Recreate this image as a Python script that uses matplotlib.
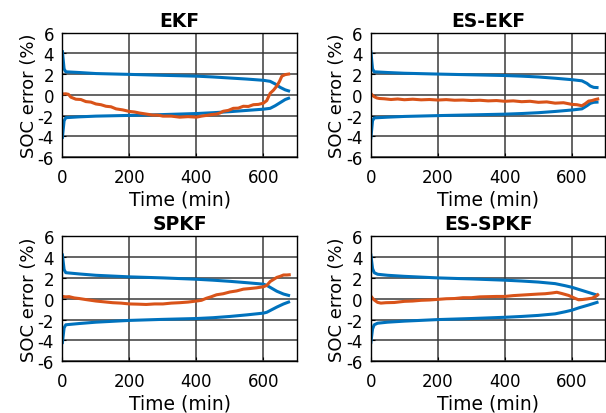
import matplotlib.pyplot as plt
import numpy as np

plt.rcParams['font.family'] = ['DejaVu Sans']
plt.rcParams['axes.unicode_minus'] = False

titles = ['EKF', 'ES-EKF', 'SPKF', 'ES-SPKF']

# 3-sigma error bounds (upper; lower given separately)
t_bnd = [
    [0, 5, 10, 50, 100, 200, 300, 400, 450, 500, 550, 600, 620, 635, 650, 665, 675],
    [0, 5, 10, 50, 100, 200, 300, 400, 450, 500, 550, 600, 630, 645, 655, 665, 675],
    [0, 5, 10, 50, 100, 200, 300, 400, 450, 500, 550, 600, 610, 625, 640, 660, 675],
    [0, 5, 10, 20, 50, 100, 200, 300, 400, 450, 500, 550, 580, 600, 620, 650, 675],
]
upper = [
    [4.15, 2.5, 2.22, 2.15, 2.05, 1.97, 1.88, 1.8, 1.72, 1.62, 1.52, 1.4, 1.3, 1.05, 0.72, 0.48, 0.38],
    [4.15, 2.5, 2.22, 2.15, 2.08, 2.0, 1.93, 1.86, 1.8, 1.72, 1.6, 1.46, 1.35, 1.1, 0.85, 0.72, 0.7],
    [4.2, 2.8, 2.5, 2.38, 2.25, 2.1, 2.0, 1.87, 1.78, 1.67, 1.54, 1.4, 1.28, 1.0, 0.72, 0.45, 0.32],
    [4.2, 2.9, 2.5, 2.35, 2.25, 2.15, 2.0, 1.9, 1.78, 1.7, 1.6, 1.45, 1.25, 1.1, 0.9, 0.6, 0.35],
]
lower = [
    [-4.1, -2.5, -2.2, -2.12, -2.05, -1.98, -1.9, -1.8, -1.72, -1.62, -1.5, -1.38, -1.3, -1.05, -0.75, -0.45, -0.33],
    [-4.15, -2.5, -2.22, -2.15, -2.08, -2.0, -1.93, -1.86, -1.8, -1.72, -1.6, -1.46, -1.35, -1.05, -0.82, -0.72, -0.7],
    [-4.2, -2.8, -2.5, -2.38, -2.25, -2.08, -1.98, -1.9, -1.82, -1.7, -1.55, -1.38, -1.3, -1.05, -0.8, -0.5, -0.32],
    [-4.2, -2.9, -2.5, -2.35, -2.25, -2.15, -2.0, -1.9, -1.78, -1.7, -1.6, -1.45, -1.25, -1.1, -0.88, -0.6, -0.35],
]

# SOC estimation error
t_err = [
    [0, 10, 18, 25, 40, 55, 70, 85, 100, 115, 130, 145, 160, 180, 200, 215, 230, 250, 270, 285, 300, 325, 350,
     375, 400, 415, 430, 445, 460, 470, 480, 495, 510, 525, 540, 555, 570, 585, 600, 610, 620, 630, 640, 648,
     655, 665, 675],
    [0, 5, 10, 18, 25, 40, 60, 80, 100, 125, 150, 175, 200, 225, 250, 275, 300, 325, 350, 375, 400, 425, 450,
     475, 500, 525, 550, 575, 600, 615, 630, 640, 650, 660, 670, 677],
    [0, 10, 20, 35, 50, 70, 100, 125, 150, 175, 200, 225, 250, 275, 300, 325, 350, 375, 400, 415, 430, 445,
     460, 480, 500, 520, 540, 560, 580, 600, 610, 620, 630, 640, 650, 660, 670, 677],
    [0, 5, 10, 20, 30, 45, 70, 100, 125, 150, 175, 200, 225, 250, 275, 300, 325, 350, 375, 400, 425, 450, 475,
     500, 520, 540, 555, 570, 590, 610, 620, 630, 645, 660, 670, 677],
]
err = [
    [0.08, 0.1, 0.05, -0.22, -0.42, -0.45, -0.65, -0.7, -0.88, -0.95, -1.1, -1.15, -1.35, -1.45, -1.6, -1.65,
     -1.75, -1.85, -1.95, -1.95, -2.05, -2.05, -2.15, -2.1, -2.15, -2.05, -1.98, -1.9, -1.85, -1.75, -1.58,
     -1.5, -1.3, -1.28, -1.1, -1.12, -0.95, -0.92, -0.8, -0.55, 0.15, 0.45, 0.85, 1.3, 1.8, 1.95, 2.0],
    [0.12, -0.05, -0.18, -0.3, -0.35, -0.38, -0.45, -0.4, -0.47, -0.42, -0.48, -0.45, -0.5, -0.46, -0.52,
     -0.5, -0.55, -0.52, -0.58, -0.55, -0.62, -0.58, -0.66, -0.62, -0.72, -0.68, -0.8, -0.76, -0.92, -0.95,
     -1.05, -0.85, -0.6, -0.55, -0.45, -0.4],
    [0.22, 0.18, 0.2, 0.08, 0.02, -0.08, -0.22, -0.3, -0.38, -0.42, -0.5, -0.52, -0.55, -0.5, -0.5, -0.42,
     -0.38, -0.32, -0.22, -0.15, 0.05, 0.2, 0.38, 0.48, 0.65, 0.75, 0.92, 0.98, 1.05, 1.15, 1.28, 1.65, 1.85,
     2.05, 2.15, 2.28, 2.28, 2.3],
    [0.25, 0.05, -0.12, -0.35, -0.42, -0.38, -0.36, -0.25, -0.22, -0.15, -0.12, -0.06, 0.0, 0.02, 0.1, 0.1,
     0.18, 0.2, 0.22, 0.22, 0.3, 0.35, 0.4, 0.45, 0.48, 0.55, 0.62, 0.5, 0.32, 0.03, -0.1, -0.08, -0.02, 0.05,
     0.2, 0.38],
]

blue = '#0072BD'
orange = '#D95319'

fig = plt.figure(figsize=(6.06, 4.14), dpi=100)
pos = [[0.103, 0.618, 0.387, 0.301], [0.612, 0.618, 0.387, 0.301],
       [0.103, 0.125, 0.387, 0.302], [0.612, 0.125, 0.387, 0.302]]

for i in range(4):
    ax = fig.add_axes(pos[i])
    ax.plot(t_bnd[i], upper[i], color=blue, lw=2.2)
    ax.plot(t_bnd[i], lower[i], color=blue, lw=2.2)
    ax.plot(t_err[i], err[i], color=orange, lw=2.2)
    ax.set_xlim(0, 700)
    ax.set_ylim(-6, 6)
    ax.set_xticks([0, 200, 400, 600])
    ax.set_yticks([-6, -4, -2, 0, 2, 4, 6])
    ax.grid(True, color='#3a3a3a', lw=1.1)
    ax.set_axisbelow(True)
    ax.tick_params(direction='in', length=3, labelsize=12)
    ax.tick_params(axis='x', pad=8)
    ax.tick_params(axis='y', pad=6)
    for s in ax.spines.values():
        s.set_linewidth(1.0)
    ax.set_title(titles[i], fontsize=13.5, fontweight='bold', pad=5)
    ax.set_xlabel('Time (min)', fontsize=13.5, labelpad=2)
    ax.set_ylabel('SOC error (%)', fontsize=13, labelpad=0)

fig.savefig('out.png', dpi=100)
